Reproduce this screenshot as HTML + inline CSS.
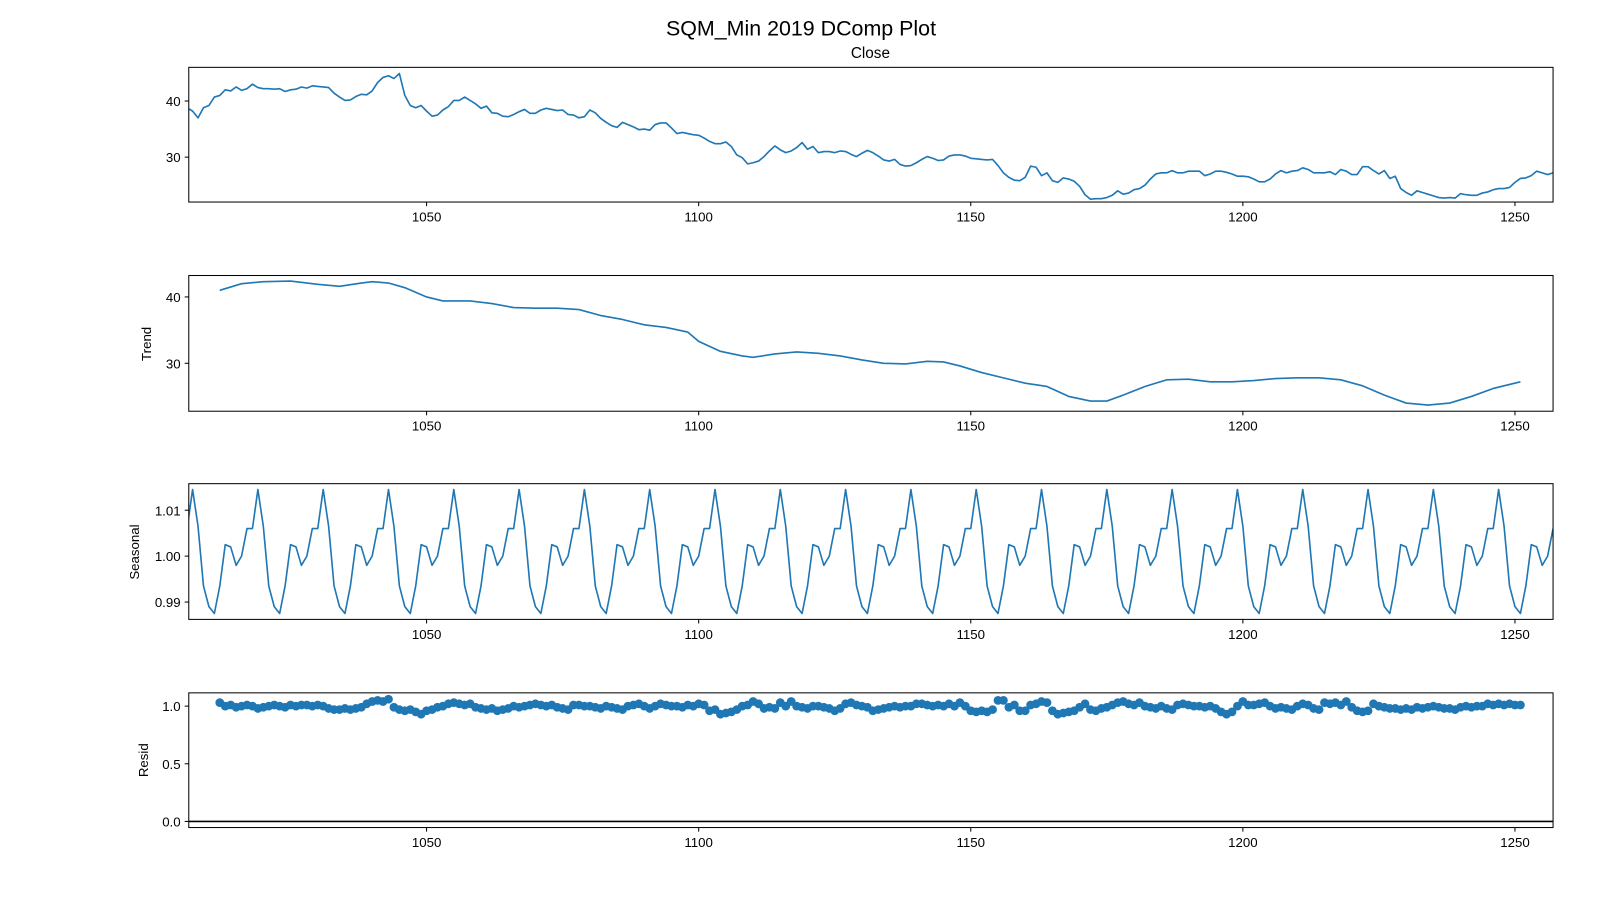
<!DOCTYPE html>
<html><head><meta charset="utf-8">
<style>
body{margin:0;background:#fff;}
svg{display:block;font-family:"Liberation Sans","DejaVu Sans",sans-serif;}
</style></head>
<body>
<svg id="chart" width="1600" height="900" viewBox="0 0 1600 900" xmlns="http://www.w3.org/2000/svg">
<rect width="1600" height="900" fill="#fff"/>
<g transform="scale(1.020408)">
<text x="785" y="35" font-size="21" text-anchor="middle">SQM_Min 2019 DComp Plot</text>
<text x="853" y="57" font-size="15" text-anchor="middle">Close</text>
<text transform="translate(148,337) rotate(-90)" font-size="13" text-anchor="middle">Trend</text>
<text transform="translate(136,541) rotate(-90)" font-size="13" text-anchor="middle">Seasonal</text>
<text transform="translate(145,745) rotate(-90)" font-size="13" text-anchor="middle">Resid</text>
<g id="plots"></g>
</g>
</svg>
<script>
const closeStart = 1006;
const closeValues = [38.8,38.2,37.0,38.8,39.2,40.7,41.0,42.0,41.8,42.5,41.9,42.2,43.0,42.4,42.2,42.2,42.1,42.2,41.7,42.0,42.1,42.5,42.3,42.7,42.6,42.5,42.4,41.4,40.7,40.1,40.2,40.8,41.2,41.1,41.8,43.3,44.2,44.5,44.0,44.9,41.0,39.2,38.8,39.2,38.2,37.3,37.5,38.4,39.0,40.1,40.1,40.7,40.1,39.5,38.7,39.1,37.9,37.8,37.3,37.2,37.6,38.1,38.5,37.8,37.8,38.4,38.7,38.5,38.3,38.4,37.6,37.5,37.0,37.2,38.4,37.9,36.9,36.2,35.6,35.3,36.2,35.8,35.4,34.9,35.0,
34.8,35.8,36.1,36.1,35.2,34.2,34.4,34.2,34.0,33.9,33.4,32.8,32.4,32.4,32.7,31.9,30.4,29.9,28.8,29.0,29.3,30.1,31.1,32.0,31.3,30.8,31.1,31.7,32.6,31.4,31.9,30.8,31.0,31.0,30.8,31.1,31.0,30.5,30.1,30.7,31.2,30.8,30.2,29.5,29.3,29.6,28.7,28.4,28.5,29.0,29.6,30.1,29.8,29.4,29.5,30.2,30.4,30.4,30.2,29.8,29.7,29.6,29.5,29.6,28.5,27.2,26.4,25.9,25.8,26.4,28.4,28.2,26.7,27.2,25.8,25.5,26.3,26.1,25.7,24.8,23.3,22.5,22.6,
22.6,22.8,23.2,24.0,23.4,23.6,24.2,24.4,25.0,26.1,27.0,27.2,27.2,27.6,27.2,27.2,27.5,27.5,27.5,26.7,27.0,27.5,27.5,27.3,27.0,26.6,26.6,26.5,26.1,25.6,25.6,26.1,27.0,27.6,27.2,27.5,27.6,28.1,27.8,27.2,27.2,27.2,27.4,26.9,27.8,27.5,26.9,26.9,28.3,28.3,27.6,27.0,27.6,26.2,26.6,24.4,23.7,23.2,24.0,23.7,23.4,23.1,22.8,22.7,22.8,22.7,23.5,23.3,23.2,23.2,23.6,23.8,24.2,24.4,24.4,24.6,25.5,26.2,26.3,26.7,27.5,27.2,26.9,27.2];
const trendX = [1012,1016,1020,1025,1030,1034,1038,1040,1043,1046,1050,1053,1058,1062,1066,1070,1074,1078,1082,1086,1090,1094,1098,1100,1104,1108,1110,1114,1118,1122,1126,1130,1134,1138,1142,1145,1148,1152,1156,1160,1164,1168,1172,1175,1178,1182,1186,1190,1194,1198,1202,1206,1210,1214,1218,1222,1226,1230,1234,1238,1242,1246,1251];
const trendValues = [41.0,42.0,42.3,42.4,41.9,41.6,42.1,42.3,42.1,41.4,40.0,39.4,39.4,39.0,38.4,38.3,38.3,38.1,37.2,36.6,35.8,35.4,34.7,33.3,31.8,31.1,30.9,31.4,31.7,31.5,31.1,30.5,30.0,29.9,30.3,30.2,29.6,28.6,27.8,27.0,26.5,25.0,24.3,24.3,25.2,26.5,27.5,27.6,27.2,27.2,27.4,27.7,27.8,27.8,27.5,26.6,25.2,24.0,23.7,24.0,25.0,26.2,27.2];
const seasonalStart = 1006;
const seasonalEnd = 1257;
const seasonalPattern = [1.006,1.0145,1.0065,0.9935,0.989,0.9875,0.9935,1.0025,1.002,0.998,1.0,1.006];
const residStart = 1012;
const residValues = [1.03,1.00,1.01,0.99,1.00,1.01,1.00,0.98,0.99,1.00,
1.01,1.00,0.99,1.01,1.00,1.01,1.01,1.00,1.01,1.00,
0.98,0.97,0.97,0.98,0.97,0.98,0.99,1.02,1.04,1.05,
1.04,1.06,0.99,0.97,0.96,0.97,0.95,0.93,0.96,0.97,
0.99,1.00,1.02,1.03,1.02,1.01,1.02,0.99,0.98,0.97,
0.98,0.96,0.97,0.98,1.00,0.99,1.00,1.01,1.02,1.01,
1.00,1.01,0.99,0.98,0.97,1.01,1.01,1.00,1.00,0.99,
0.98,1.00,0.99,0.98,0.97,1.00,1.01,1.02,1.00,0.98,
1.00,1.02,1.01,1.00,1.00,0.99,1.01,1.00,1.02,1.01,
0.96,0.97,0.93,0.94,0.95,0.97,1.00,1.01,1.04,1.02,
0.98,0.99,0.98,1.03,1.00,1.04,1.00,0.99,0.98,1.00,
1.00,0.99,0.98,0.96,0.98,1.02,1.03,1.01,1.00,0.99,
0.96,0.97,0.98,0.99,1.00,0.99,1.00,1.00,1.02,1.02,
1.01,1.00,1.01,1.00,1.02,1.00,1.03,1.00,0.96,0.95,
0.96,0.95,0.97,1.05,1.05,0.99,1.01,0.96,0.96,1.01,
1.02,1.04,1.03,0.96,0.93,0.94,0.95,0.96,0.99,1.02,
0.97,0.96,0.98,0.99,1.01,1.03,1.04,1.02,1.01,1.03,
1.00,0.99,0.98,1.00,0.98,0.97,1.01,1.02,1.01,1.00,
1.00,0.99,1.00,0.98,0.95,0.93,0.95,1.00,1.04,1.01,
1.01,1.02,1.03,1.00,0.98,0.99,0.98,0.97,1.00,1.02,
1.01,0.98,0.97,1.03,1.02,1.03,1.01,1.04,0.99,0.96,
0.95,0.96,1.02,1.00,0.99,0.98,0.98,0.97,0.98,0.97,
0.99,0.98,0.99,1.00,0.99,0.98,0.98,0.97,0.99,1.00,
0.99,1.00,1.00,1.02,1.01,1.02,1.01,1.02,1.01,1.01];
const xTicks = [1050,1100,1150,1200,1250];
const closeTicks = [30,40];
const trendTicks = [30,40];
const seasonalTicks = [0.99,1.00,1.01];
const seasonalTickLabels = ["0.99","1.00","1.01"];
const residTicks = [0.0,0.5,1.0];
const residTickLabels = ["0.0","0.5","1.0"];

const NS = "http://www.w3.org/2000/svg";
const root = document.getElementById('plots');
const L = 185, R = 1522, XMIN = 1006.3, XMAX = 1257;
const COLOR = "#1f77b4";
function xs(v){ return L + (v - XMIN) / (XMAX - XMIN) * (R - L); }
function mk(tag, attrs, parent){ const e = document.createElementNS(NS, tag); for (const k in attrs) e.setAttribute(k, attrs[k]); (parent||root).appendChild(e); return e; }

function panel(name, top, bottom, ymin, ymax, yt, ytl){
  const g = mk('g', {});
  
  
  const ys = v => bottom - (v - ymin) / (ymax - ymin) * (bottom - top);
  const clipId = 'clip-' + name;
  const cp = mk('clipPath', {id: clipId}, g);
  mk('rect', {x: L, y: top, width: R - L, height: bottom - top}, cp);
  const plot = mk('g', {'clip-path': 'url(#' + clipId + ')'}, g);
  xTicks.forEach(t => {
    const x = xs(t);
    mk('line', {x1: x, x2: x, y1: bottom, y2: bottom + 4, stroke: '#000', 'stroke-width': 1}, g);
    const lab = mk('text', {x: x, y: bottom + 19, 'font-size': 13, 'text-anchor': 'middle'}, g);
    
    
    lab.textContent = t;
  });
  yt.forEach((t, i) => {
    const y = ys(t);
    mk('line', {x1: L - 4, x2: L, y1: y, y2: y, stroke: '#000', 'stroke-width': 1}, g);
    const lab = mk('text', {x: L - 8, y: y + 5, 'font-size': 13, 'text-anchor': 'end'}, g);
    
    
    lab.textContent = ytl ? ytl[i] : t;
  });
  const frame = mk('rect', {x: L, y: top, width: R - L, height: bottom - top, fill: 'none', stroke: '#000', 'stroke-width': 1}, g);
  
  
  return {plot, ys};
}
function line(plot, xArr, yArr, ys, name){
  const pts = xArr.map((x, i) => xs(x).toFixed(2) + ',' + ys(yArr[i]).toFixed(2)).join(' ');
  const pl = mk('polyline', {points: pts, fill: 'none', stroke: COLOR, 'stroke-width': 1.6, 'stroke-linejoin': 'round'}, plot);
  
  
}

let p = panel('close', 66, 198, 40 - (198 - 99) / 5.5, 40 + (99 - 66) / 5.5, closeTicks);
line(p.plot, closeValues.map((v, i) => closeStart + i), closeValues, p.ys, 'close-line');
p = panel('trend', 270, 403, 40 - (403 - 291) / 6.5, 40 + (291 - 270) / 6.5, trendTicks);
line(p.plot, trendX, trendValues, p.ys, 'trend-line');
p = panel('seasonal', 474, 607, 1 - (607 - 545) / 4500, 1 + (545 - 474) / 4500, seasonalTicks, seasonalTickLabels);
const sX = [], sY = [];
for (let d = seasonalStart; d <= seasonalEnd; d++) { sX.push(d); sY.push(seasonalPattern[(d - seasonalStart) % seasonalPattern.length]); }
line(p.plot, sX, sY, p.ys, 'seasonal-line');
p = panel('resid', 679, 811, -(811 - 805) / 113, (805 - 679) / 113, residTicks, residTickLabels);
const zl = mk('line', {x1: L, x2: R, y1: p.ys(0), y2: p.ys(0), stroke: '#000', 'stroke-width': 1.6}, p.plot);


residValues.forEach((v, i) => {
  const c = mk('circle', {cx: xs(residStart + i), cy: p.ys(v), r: 4.3, fill: COLOR}, p.plot);
  
  
});
</script>
</body></html>
